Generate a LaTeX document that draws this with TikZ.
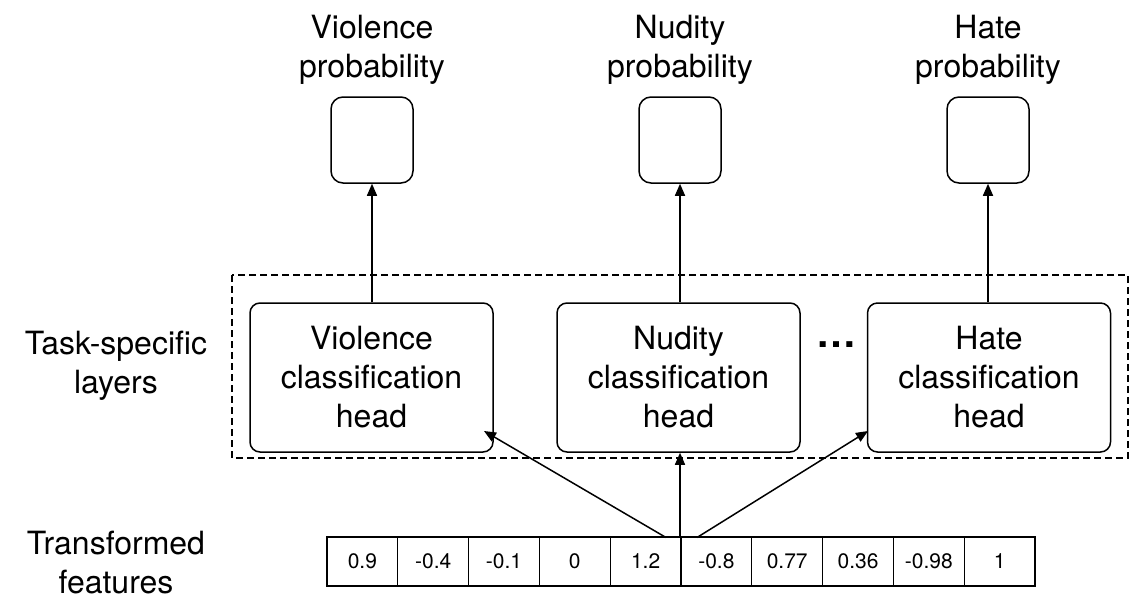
\documentclass[tikz,border=0pt]{standalone}
\usepackage{fontspec}
\setmainfont{TeX Gyre Heros}
\usetikzlibrary{arrows.meta}
\begin{document}
\begin{tikzpicture}[x=1pt,y=-1pt,
  big/.style={font=\fontsize{32}{39}\selectfont, align=center},
  outbox/.style={draw, line width=1.5pt, rounded corners=12pt, minimum width=82pt, minimum height=86pt},
  headbox/.style={draw, line width=1.5pt, rounded corners=10pt, minimum width=243pt, minimum height=149pt, font=\fontsize{32}{39}\selectfont, align=center},
  cell/.style={draw, line width=1.3pt, minimum width=70.8pt, minimum height=49pt, font=\fontsize{21}{22}\selectfont, inner sep=0pt},
  arr/.style={line width=1.5pt, -{Triangle[length=12pt,width=10pt]}}]
\useasboundingbox (0,0) rectangle (1131,613);
\draw[dash pattern=on 7pt off 4pt, line width=1.4pt] (232,275) rectangle (1128,458);
\foreach \n/\x/\t in {v/372/Violence, n/680/Nudity, h/988/Hate}{
  \node[outbox] (o\n) at (\x,140) {};
  \node[big] (l\n) at (\x,50) {\t\\probability};
}
\node[headbox] (hv) at (371.5,377.5) {Violence\\classification\\head};
\node[headbox] (hn) at (678.5,377.5) {Nudity\\classification\\head};
\node[headbox] (hh) at (989,377.5) {Hate\\classification\\head};
\node[font=\fontsize{40}{40}\selectfont] (dots) at (836,345) {\textbf{\ldots}};
\node[big] (ltask) at (116,366) {Task-specific\\layers};
\node[big] (lfeat) at (116,563) {Transformed\\features};
\foreach \v [count=\i] in {0.9,-0.4,-0.1,0,1.2,-0.8,0.77,0.36,-0.98,1}{
  \node[cell] (c\i) at ({327+70.8*(\i-0.5)},561.5) {\v};
}
\coordinate (s1) at (666,537.5);
\coordinate (s2) at (680,537.5);
\coordinate (s3) at (697,537.5);
\draw[arr] (s1) -- (484,431);
\draw[arr] (s2) -- (hn.south -| s2);
\draw[arr] (s3) -- (868,431);
\draw[arr] (hv.north -| ov) -- (ov.south);
\draw[arr] (hn.north -| on) -- (on.south);
\draw[arr] (hh.north -| oh) -- (oh.south);
\end{tikzpicture}
\end{document}
